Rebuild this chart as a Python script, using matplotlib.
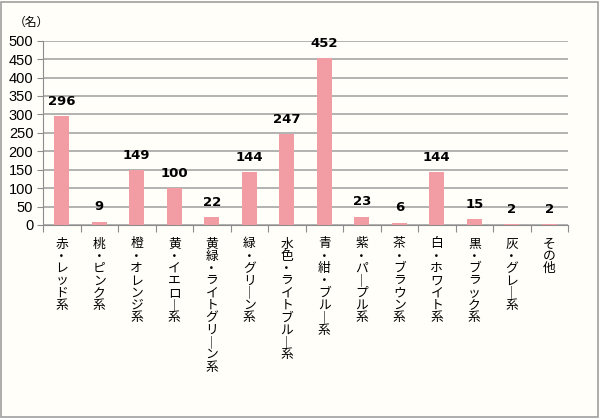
import matplotlib.pyplot as plt
from matplotlib.patches import Rectangle

plt.rcParams['font.family'] = ['Noto Sans CJK JP', 'DejaVu Sans']

# data
categories = ['赤・レッド系', '桃・ピンク系', '橙・オレンジ系', '黄・イエロー系',
              '黄緑・ライトグリーン系', '緑・グリーン系', '水色・ライトブルー系',
              '青・紺・ブルー系', '紫・パープル系', '茶・ブラウン系', '白・ホワイト系',
              '黒・ブラック系', '灰・グレー系', 'その他']
counts = [296, 9, 149, 100, 22, 144, 247, 452, 23, 6, 144, 15, 2, 2]
yticks = [0, 50, 100, 150, 200, 250, 300, 350, 400, 450, 500]

bg = '#FFFEF8'
bar_col = '#F29CA3'
grid_col = '#A6A6A6'

fig = plt.figure(figsize=(6, 4.18), dpi=100, facecolor=bg)
ax = fig.add_axes([43/600, 1-225/418, 525/600, (225-40.7)/418])
ax.set_facecolor(bg)

x = list(range(len(categories)))
ax.bar(x, counts, width=0.4, color=bar_col, zorder=3)
ax.set_xlim(-0.5, len(categories)-0.5)
ax.set_ylim(0, 500)
ax.set_yticks(yticks)
ax.set_yticklabels([str(v) for v in yticks], fontsize=10.5, family='Liberation Sans')
ax.yaxis.grid(True, color=grid_col, linewidth=1.2, zorder=0)

for s in ['top', 'right']:
    ax.spines[s].set_visible(False)
for s in ['left', 'bottom']:
    ax.spines[s].set_color('#8C8C8C')
ax.tick_params(axis='y', length=4, color='#8C8C8C', pad=3)

# ticks between categories
ax.set_xticks([i - 0.5 for i in range(len(categories)+1)])
ax.set_xticklabels([])
ax.tick_params(axis='x', length=5, color='#8C8C8C')

# vertical category labels (stacked glyphs, long vowel mark turned upright)
def vert(s):
    return '\n'.join('｜' if c == 'ー' else c for c in s)

for i, c in enumerate(categories):
    ax.annotate(vert(c), (i, 0), xycoords=ax.get_xaxis_transform(),
                xytext=(0, -9), textcoords='offset points',
                ha='center', va='top', fontsize=9.2, linespacing=0.93)

# data labels
for i, v in enumerate(counts):
    ax.annotate(str(v), (i, v), xytext=(0, 6), textcoords='offset points',
                ha='center', va='bottom', fontsize=9.5, fontweight='bold',
                family='DejaVu Sans')

fig.text(14/600, 1-22/418, '（名）', fontsize=8.5, ha='left', va='center')

fig.patches.append(Rectangle((0.002, 0.002), 0.995, 0.994, transform=fig.transFigure,
                             fill=False, edgecolor='#A0A0A0', linewidth=1.2))

fig.savefig('out.png', dpi=100, facecolor=bg)
